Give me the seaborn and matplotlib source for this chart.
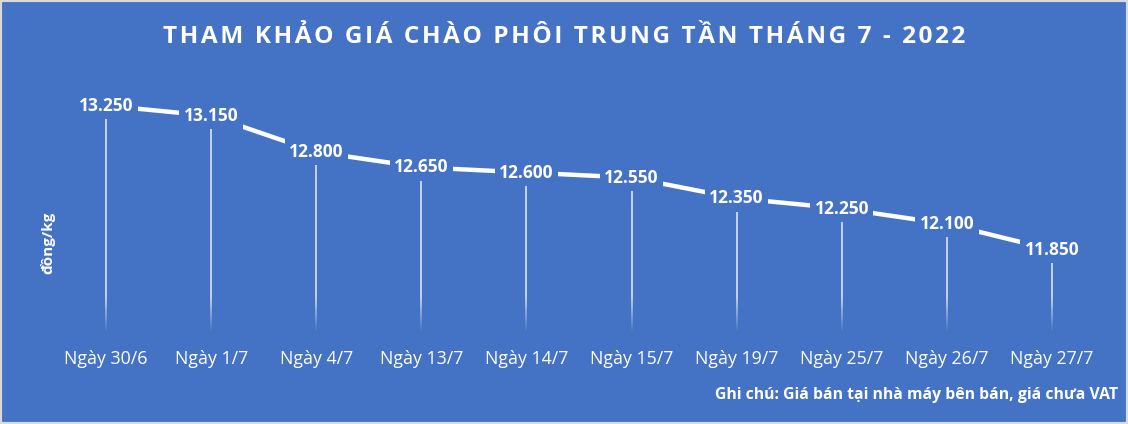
import numpy as np
import pandas as pd
import matplotlib
matplotlib.use("Agg")
import matplotlib.pyplot as plt
import seaborn as sns
from matplotlib.patches import Rectangle
from matplotlib.collections import LineCollection

categories = ["Ngày 30/6", "Ngày 1/7", "Ngày 4/7", "Ngày 13/7", "Ngày 14/7",
              "Ngày 15/7", "Ngày 19/7", "Ngày 25/7", "Ngày 26/7", "Ngày 27/7"]
prices = [13250, 13150, 12800, 12650, 12600, 12550, 12350, 12250, 12100, 11850]
value_labels = ["13.250", "13.150", "12.800", "12.650", "12.600",
                "12.550", "12.350", "12.250", "12.100", "11.850"]
title_text = "THAM KHẢO GIÁ CHÀO PHÔI TRUNG TẦN THÁNG 7 - 2022"
ylabel_text = "đồng/kg"
note_text = "Ghi chú: Giá bán tại nhà máy bên bán, giá chưa VAT"

BG = "#4472C4"
LINEC = "#DCE4F2"
sns.set_theme(style="white")
plt.rcParams['font.family'] = ['Open Sans', 'DejaVu Sans']

df = pd.DataFrame({"pos": np.arange(len(categories)), "price": prices})

W, H = 1128, 424
fig = plt.figure(figsize=(W / 100, H / 100), dpi=100, facecolor=BG)
ax_left, ax_right = 53.5 / W, 1104.5 / W
ax_top_px, ax_bot_px = 75, 332
ax = fig.add_axes([ax_left, (H - ax_bot_px) / H, ax_right - ax_left, (ax_bot_px - ax_top_px) / H])
ax.set_facecolor(BG)

ymin = 11050
scale = 0.1029  # px per unit
ymax = ymin + (ax_bot_px - ax_top_px) / scale
ax.set_ylim(ymin, ymax)
ax.set_xlim(-0.5, len(categories) - 0.5)

# drop lines: solid upper part, fading lower part
fade_h = 36 / scale
ax.vlines(df["pos"], ymin + fade_h, df["price"], colors=LINEC, linewidth=1.2, zorder=1)
nseg = 30
edges = np.linspace(ymin + fade_h, ymin, nseg + 1)
segs, alphas = [], []
for x in df["pos"]:
    for i in range(nseg):
        segs.append([(x, edges[i]), (x, edges[i + 1])])
        alphas.append(1 - (i + 0.5) / nseg)
cols = [matplotlib.colors.to_rgba(LINEC, a) for a in alphas]
ax.add_collection(LineCollection(segs, colors=cols, linewidths=1.2, zorder=1,
                                 capstyle="butt"))

sns.lineplot(data=df, x="pos", y="price", color="white", linewidth=3.2, ax=ax, zorder=2)

for x, y, lab in zip(df["pos"], df["price"], value_labels):
    ax.text(x, y, lab, ha="center", va="center", color="white", fontsize=12.5,
            fontweight="bold", zorder=3,
            bbox=dict(boxstyle="square,pad=0.25", facecolor=BG, edgecolor="none"))

ax.set_xticks(df["pos"])
ax.set_xticklabels(categories, color="white", fontsize=12.8)
ax.tick_params(axis="x", length=0, pad=13)
ax.set_yticks([])
ax.set_xlabel("")
ax.set_ylabel("")
for s in ax.spines.values():
    s.set_visible(False)

spaced_title = "\u200a".join(title_text)
fig.text(564 / W, 1 - 37 / H, spaced_title, ha="center", va="center", color="white",
         fontsize=17.6, fontweight="bold")
fig.text(48 / W, 1 - 243 / H, ylabel_text, ha="center", va="center", color="white",
         fontsize=11, fontweight="bold", rotation=90)
fig.text(1118 / W, 1 - 395 / H, note_text, ha="right", va="center", color="white",
         fontsize=11.3, fontweight="bold")

fig.add_artist(Rectangle((0, 0), 1, 1, transform=fig.transFigure, fill=False,
                         edgecolor="#D9D9D9", linewidth=3))

fig.savefig("out.png", dpi=100, facecolor=BG)
